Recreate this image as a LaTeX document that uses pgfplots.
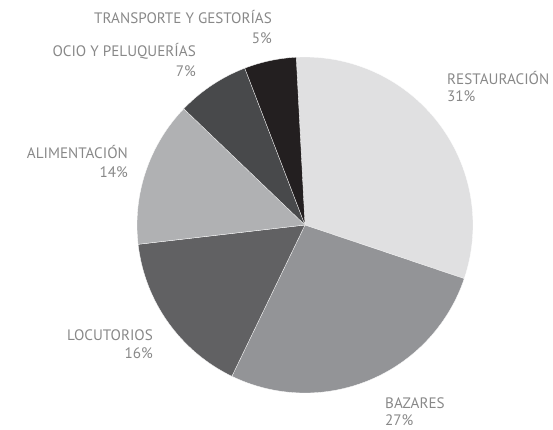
\documentclass[border=0pt]{standalone}
\usepackage{pgfplots}
\usepackage{pgfplotstable}
\pgfplotsset{compat=1.18}
\usepackage{fontspec}
\setmainfont{PT Sans}
\definecolor{sliceA}{HTML}{E0E0E1}
\definecolor{sliceB}{HTML}{939497}
\definecolor{sliceC}{HTML}{616163}
\definecolor{sliceD}{HTML}{B0B1B3}
\definecolor{sliceE}{HTML}{48494B}
\definecolor{sliceF}{HTML}{231F20}
\definecolor{txt}{HTML}{888888}
\pgfplotstableread{
pct col
31 sliceA
27 sliceB
16 sliceC
14 sliceD
7 sliceE
5 sliceF
}\pietable
\begin{document}
\begin{tikzpicture}
\begin{axis}[x=1bp, y=1bp, xmin=0, xmax=553, ymin=0, ymax=429, hide axis, clip=false]
\pgfplotsextra{
  \xdef\angA{93}
  \foreach \i in {0,...,5}{
    \pgfplotstablegetelem{\i}{pct}\of\pietable \let\v\pgfplotsretval
    \pgfplotstablegetelem{\i}{col}\of\pietable \let\c\pgfplotsretval
    \pgfmathsetmacro\angB{\angA-3.6*\v}
    \fill[\c, draw=white, line width=0.3bp] (axis cs:305,204) -- ++(\angA:168bp) arc[start angle=\angA, end angle=\angB, radius=168bp] -- cycle;
    \xdef\angA{\angB}
  }
}
\begin{scope}[every node/.style={inner sep=0pt, text=txt, font=\fontsize{15.2}{18}\selectfont}]
\node[anchor=base east] at (axis cs:272,{429-24}) {TRANSPORTE Y GESTORÍAS};
\node[anchor=base east] at (axis cs:272,{429-43}) {5\%};
\node[anchor=base east] at (axis cs:196,{429-56}) {OCIO Y PELUQUERÍAS};
\node[anchor=base east] at (axis cs:196,{429-76}) {7\%};
\node[anchor=base west] at (axis cs:447,{429-84}) {RESTAURACIÓN};
\node[anchor=base west] at (axis cs:447,{429-101}) {31\%};
\node[anchor=base east] at (axis cs:128,{429-158}) {ALIMENTACIÓN};
\node[anchor=base east] at (axis cs:128,{429-177}) {14\%};
\node[anchor=base east] at (axis cs:153,{429-340}) {LOCUTORIOS};
\node[anchor=base east] at (axis cs:153,{429-358}) {16\%};
\node[anchor=base west] at (axis cs:385,{429-408}) {BAZARES};
\node[anchor=base west] at (axis cs:385,{429-425}) {27\%};
\end{scope}
\end{axis}
\pgfresetboundingbox
\useasboundingbox (current axis.south west) rectangle (current axis.north east);
\end{tikzpicture}
\end{document}
